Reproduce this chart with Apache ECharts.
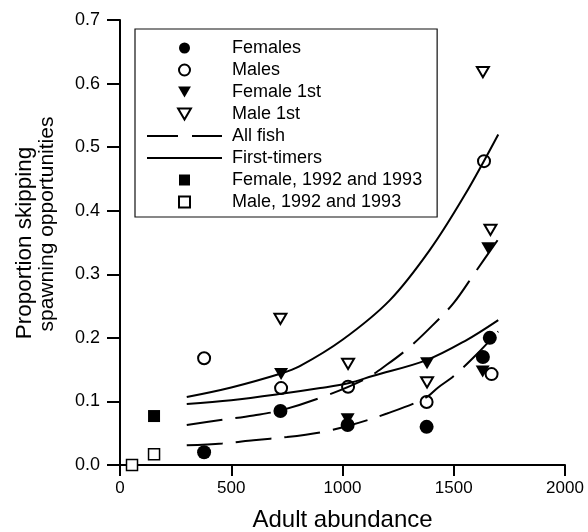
<!DOCTYPE html>
<html>
<head>
<meta charset="utf-8">
<script src="https://cdn.jsdelivr.net/npm/echarts@6/dist/echarts.min.js"></script>
<style>
html,body{margin:0;padding:0;background:#fff;}
#chart{width:588px;height:532px;}
</style>
</head>
<body>
<div id="chart"></div>
<script>
// ---- data ----
const femalesX = [378, 721, 1023, 1378, 1631, 1662];
const femalesY = [0.020, 0.085, 0.063, 0.060, 0.170, 0.200];
const malesX = [378, 724, 1025, 1378, 1636, 1670];
const malesY = [0.168, 0.121, 0.123, 0.099, 0.478, 0.143];
const femaleFirstX = [724, 1023, 1380, 1630, 1655];
const femaleFirstY = [0.143, 0.072, 0.160, 0.147, 0.341];
const maleFirstX = [721, 1025, 1380, 1631, 1665];
const maleFirstY = [0.230, 0.159, 0.130, 0.618, 0.370];
const female9293X = [153];
const female9293Y = [0.077];
const male9293X = [54, 153];
const male9293Y = [0.000, 0.017];

const allFishUpperX = [300, 460, 600, 724, 910, 1100, 1200, 1300, 1400, 1500, 1600, 1700];
const allFishUpperY = [0.063, 0.071, 0.078, 0.086, 0.107, 0.135, 0.158, 0.185, 0.218, 0.255, 0.305, 0.355];
const allFishLowerX = [300, 460, 600, 750, 910, 1030, 1200, 1370, 1430, 1500, 1600, 1700];
const allFishLowerY = [0.031, 0.034, 0.039, 0.044, 0.052, 0.062, 0.081, 0.105, 0.122, 0.140, 0.173, 0.210];
const firstUpperX = [300, 500, 724, 806, 1000, 1212, 1392, 1550, 1700];
const firstUpperY = [0.107, 0.122, 0.144, 0.155, 0.197, 0.259, 0.338, 0.425, 0.520];
const firstLowerX = [300, 500, 725, 900, 1030, 1135, 1378, 1550, 1700];
const firstLowerY = [0.096, 0.102, 0.112, 0.121, 0.129, 0.140, 0.165, 0.195, 0.228];

const legendNames = ['Females', 'Males', 'Female 1st', 'Male 1st', 'All fish', 'First-timers',
  'Female, 1992 and 1993', 'Male, 1992 and 1993'];
const yTitleLines = ['Proportion skipping', 'spawning opportunities'];
const xTitle = 'Adult abundance';
const xTickInterval = 500;
const yTickInterval = 0.1;

// ---- build ----
const zip = (xs, ys) => xs.map((x, i) => [x, ys[i]]);
const FONT = 'Liberation Sans, Arial, Helvetica, sans-serif';
const triDown = 'path://M0,0 L14,0 L7,12 Z';
const square = 'path://M0,0 L10,0 L10,10 L0,10 Z';
const dashIcon = 'path://M0,0 H31 V2 H0 Z M45,0 H75 V2 H45 Z';
const solidIcon = 'path://M0,0 H75 V2 H0 Z';

function scatter(name, xs, ys, symbol, size, filled, bw) {
  return {
    name: name, type: 'scatter', data: zip(xs, ys), symbol: symbol, symbolSize: size,
    symbolKeepAspect: true, clip: false, z: 3,
    itemStyle: { color: filled ? '#000' : '#fff', borderColor: '#000', borderWidth: filled ? 0 : bw, opacity: 1 }
  };
}
function curve(name, xs, ys, dashed) {
  return {
    name: name, type: 'line', data: zip(xs, ys), symbol: 'none', showSymbol: false, smooth: 0.35,
    z: 4, silent: true,
    lineStyle: { color: '#000', width: 2, type: dashed ? [36, 13] : 'solid' },
    itemStyle: { color: '#000' }
  };
}

const legendData = legendNames.map(n => {
  if (n === 'All fish') return { name: n, icon: dashIcon };
  if (n === 'First-timers') return { name: n, icon: solidIcon };
  return { name: n };
});

const chart = echarts.init(document.getElementById('chart'), null, { renderer: 'canvas' });
chart.setOption({
  animation: false,
  backgroundColor: '#fff',
  textStyle: { fontFamily: FONT, color: '#000' },
  grid: { left: 120, right: 23, top: 20, bottom: 67, containLabel: false, outerBoundsMode: 'none' },
  xAxis: {
    type: 'value', min: 0, max: 2000, interval: xTickInterval,
    name: xTitle, nameLocation: 'middle', nameGap: 43,
    nameTextStyle: { fontSize: 24, color: '#000', fontFamily: FONT },
    axisLine: { onZero: false, lineStyle: { color: '#000', width: 2 } },
    axisTick: { inside: false, length: 11, lineStyle: { color: '#000', width: 2 } },
    axisLabel: { fontSize: 17, color: '#000', margin: 15, fontFamily: FONT, formatter: v => String(v) },
    splitLine: { show: false }
  },
  yAxis: {
    type: 'value', min: 0, max: 0.7, interval: yTickInterval,
    axisLine: { onZero: false, lineStyle: { color: '#000', width: 2 } },
    axisTick: { inside: false, length: 13, lineStyle: { color: '#000', width: 2 } },
    axisLabel: { fontSize: 18, color: '#000', margin: 20, fontFamily: FONT, formatter: v => v.toFixed(1) },
    splitLine: { show: false }
  },
  graphic: [
    { type: 'text', x: 25, y: 243, rotation: Math.PI / 2,
      style: { text: yTitleLines[0], font: '22.5px ' + FONT, fill: '#000', align: 'center', verticalAlign: 'middle' } },
    { type: 'text', x: 47, y: 224, rotation: Math.PI / 2,
      style: { text: yTitleLines[1], font: '21px ' + FONT, fill: '#000', align: 'center', verticalAlign: 'middle' } }
  ],
  legend: {
    data: legendData, orient: 'vertical', left: 135, top: 29,
    padding: [10, 15, 6, 12], itemWidth: 75, itemHeight: 11, itemGap: 4,
    borderColor: '#111', borderWidth: 1.2, backgroundColor: '#fff',
    selectedMode: false,
    textStyle: { fontSize: 18, lineHeight: 18, color: '#000', fontFamily: FONT, padding: [0, 0, 0, 5] }
  },
  series: [
    scatter('Females', femalesX, femalesY, 'circle', 14, true, 0),
    scatter('Males', malesX, malesY, 'circle', 12, false, 2),
    scatter('Female 1st', femaleFirstX, femaleFirstY, triDown, 14, true, 0),
    scatter('Male 1st', maleFirstX, maleFirstY, triDown, 12, false, 2),
    scatter('Female, 1992 and 1993', female9293X, female9293Y, square, 12, true, 0),
    scatter('Male, 1992 and 1993', male9293X, male9293Y, square, 11, false, 1.5),
    curve('All fish', allFishUpperX, allFishUpperY, true),
    curve('All fish', allFishLowerX, allFishLowerY, true),
    curve('First-timers', firstUpperX, firstUpperY, false),
    curve('First-timers', firstLowerX, firstLowerY, false)
  ]
});
</script>
</body>
</html>
